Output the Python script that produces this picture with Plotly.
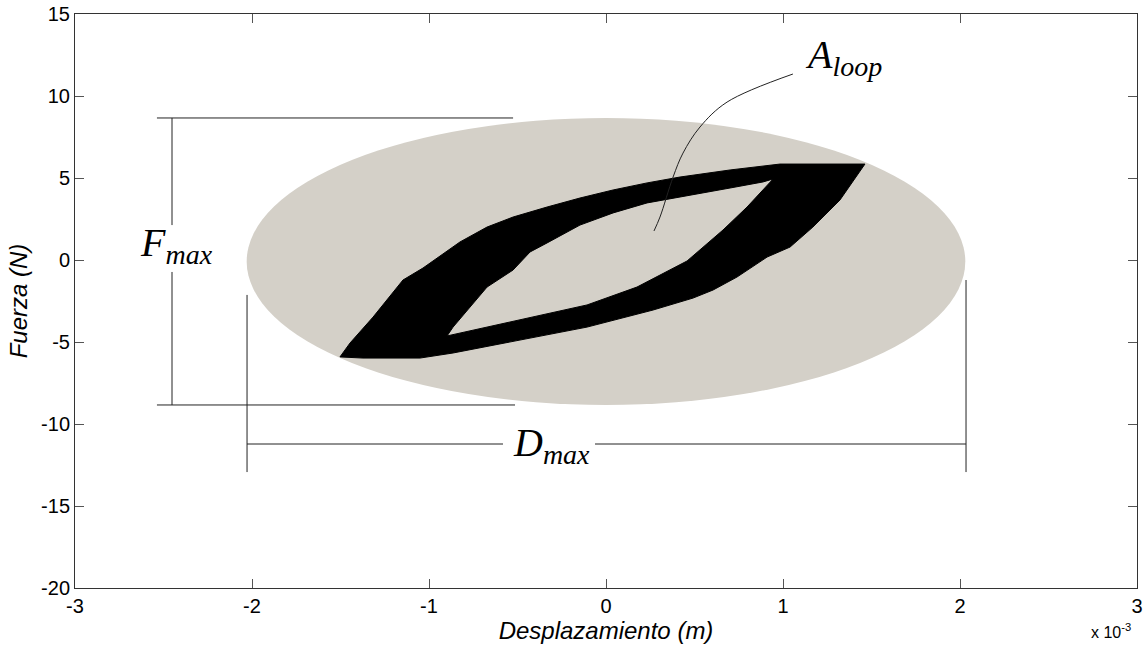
import plotly.graph_objects as go

# Hysteresis loop (displacement in 1e-3 m, force in N)
outer_x = [-1.503, -1.446, -1.316, -1.147, -1.034, -0.825, -0.672, -0.525, -0.333, -0.147,
           0.040, 0.232, 0.418, 0.701, 0.983, 1.463, 1.322, 1.169, 1.040, 0.910, 0.740,
           0.605, 0.492, 0.266, -0.107, -0.486, -0.864, -1.051, -1.373, -1.503]
outer_y = [-5.91, -5.06, -3.48, -1.22, -0.49, 1.10, 2.01, 2.62, 3.23, 3.78,
           4.27, 4.70, 5.06, 5.49, 5.85, 5.85, 3.66, 2.01, 0.79, 0.18, -1.04,
           -1.83, -2.32, -3.05, -4.09, -4.88, -5.67, -5.98, -5.98, -5.91]
inner_x = [-0.898, -0.486, -0.107, 0.175, 0.458, 0.661, 0.797, 0.944, 0.887, 0.701,
           0.418, 0.232, 0.040, -0.147, -0.333, -0.429, -0.525, -0.672, -0.864, -0.898]
inner_y = [-4.63, -3.66, -2.74, -1.65, -0.06, 1.83, 3.23, 4.94, 4.76, 4.39,
           3.84, 3.48, 2.87, 2.13, 1.04, 0.49, -0.61, -1.65, -4.09, -4.63]

# Envelope ellipse
ell_x = [-2.03, 2.03]
ell_y = [-8.84, 8.66]

# Dimension lines
fmax_top_x = [-2.537, -0.525]; fmax_top_y = [8.66, 8.66]
fmax_bot_x = [-2.537, -0.514]; fmax_bot_y = [-8.84, -8.84]
fmax_v1_x = [-2.452, -2.452]; fmax_v1_y = [8.66, 2.13]
fmax_v2_x = [-2.452, -2.452]; fmax_v2_y = [-0.73, -8.84]
dmax_l_x = [-2.028, -2.028]; dmax_l_y = [-2.13, -12.93]
dmax_r_x = [2.034, 2.034]; dmax_r_y = [-1.22, -12.93]
dmax_h1_x = [-2.028, -0.582]; dmax_h1_y = [-11.22, -11.22]
dmax_h2_x = [-0.062, 2.034]; dmax_h2_y = [-11.22, -11.22]

# Leader for A_loop
lead_x = [1.056, 0.684, 0.531, 0.435, 0.379, 0.305, 0.271]
lead_y = [11.34, 9.63, 8.11, 6.52, 5.06, 2.62, 1.77]

x_ticks = [-3, -2, -1, 0, 1, 2, 3]
y_ticks = [-20, -15, -10, -5, 0, 5, 10, 15]

GRAY = "#d4d0c8"
fig = go.Figure()

fig.add_shape(type="circle", xref="x", yref="y",
              x0=ell_x[0], x1=ell_x[1], y0=ell_y[0], y1=ell_y[1],
              fillcolor=GRAY, line=dict(width=0), layer="below")

fig.add_trace(go.Scatter(x=outer_x, y=outer_y, mode="lines", fill="toself",
                         fillcolor="black", line=dict(color="black", width=1),
                         hoverinfo="skip", showlegend=False))
fig.add_trace(go.Scatter(x=inner_x, y=inner_y, mode="lines", fill="toself",
                         fillcolor=GRAY, line=dict(color="black", width=1),
                         hoverinfo="skip", showlegend=False))

for xs, ys in [(fmax_top_x, fmax_top_y), (fmax_bot_x, fmax_bot_y),
               (fmax_v1_x, fmax_v1_y), (fmax_v2_x, fmax_v2_y),
               (dmax_l_x, dmax_l_y), (dmax_r_x, dmax_r_y),
               (dmax_h1_x, dmax_h1_y), (dmax_h2_x, dmax_h2_y)]:
    fig.add_trace(go.Scatter(x=xs, y=ys, mode="lines",
                             line=dict(color="#222", width=1),
                             hoverinfo="skip", showlegend=False))

fig.add_trace(go.Scatter(x=lead_x, y=lead_y, mode="lines",
                         line=dict(color="#222", width=1, shape="spline"),
                         hoverinfo="skip", showlegend=False))

serif = dict(family="Liberation Serif", size=40, color="black")
fig.add_annotation(x=-2.644, y=0.9, xref="x", yref="y", text="<i>F<sub>max</sub></i>",
                   showarrow=False, xanchor="left", yanchor="middle", font=serif)
fig.add_annotation(x=-0.537, y=-11.28, xref="x", yref="y", text="<i>D<sub>max</sub></i>",
                   showarrow=False, xanchor="left", yanchor="middle", font=serif)
fig.add_annotation(x=1.113, y=12.4, xref="x", yref="y", text="<i>A<sub>loop</sub></i>",
                   showarrow=False, xanchor="left", yanchor="middle", font=serif)

fig.add_annotation(x=1.0, y=0, xref="paper", yref="paper", yshift=-55, xshift=-4,
                   text="x 10<sup>-3</sup>", showarrow=False, xanchor="right", yanchor="bottom",
                   font=dict(family="Arial, Liberation Sans", size=16, color="black"))

axis_common = dict(showgrid=False, zeroline=False, showline=True, linecolor="#333",
                   linewidth=1, mirror="ticks", ticks="inside", ticklen=9, automargin=False,
                   tickcolor="#555", tickfont=dict(family="Arial, Liberation Sans", size=20, color="black"))

fig.update_xaxes(range=[-3, 3], tickvals=x_ticks, ticktext=[str(v) for v in x_ticks],
                 title=dict(text="<i>Desplazamiento (m)</i>", standoff=2,
                            font=dict(family="Arial, Liberation Sans", size=24, color="black")),
                 **axis_common)
fig.update_yaxes(range=[-20, 15], tickvals=y_ticks, ticktext=[str(v) for v in y_ticks],
                 title=dict(text="<i>Fuerza (N)</i>", standoff=6,
                            font=dict(family="Arial, Liberation Sans", size=24, color="black")),
                 **axis_common)

fig.update_layout(width=1148, height=645, plot_bgcolor="white", paper_bgcolor="white",
                  margin=dict(l=75, r=11, t=14, b=57), showlegend=False)

fig.write_html("out.html")
